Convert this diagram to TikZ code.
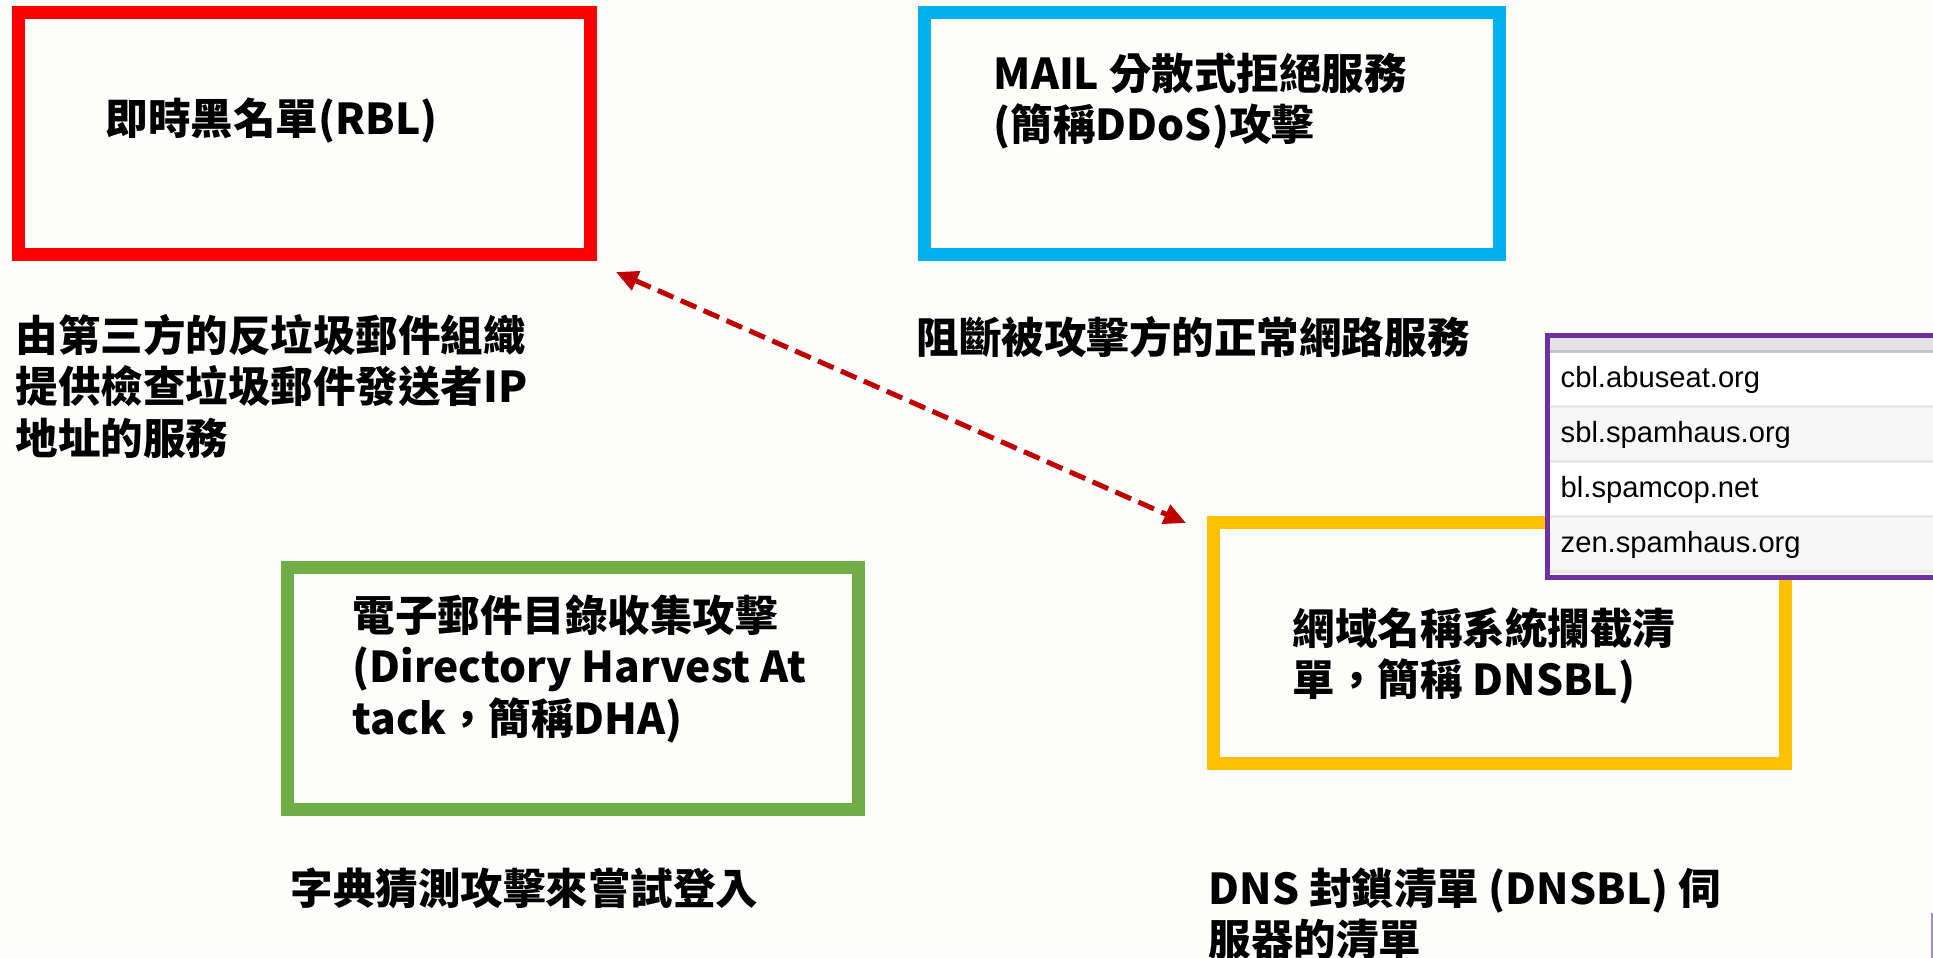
\documentclass[tikz,border=0pt]{standalone}
\usepackage{fontspec}
\setmainfont{Noto Sans CJK TC}
\newfontfamily\listfont{Liberation Sans}
\usepackage{tikz}
\usepackage{xcolor}
\usetikzlibrary{arrows.meta}
\definecolor{rblred}{HTML}{FF0000}
\definecolor{ddosblue}{HTML}{00B0F0}
\definecolor{dhagreen}{HTML}{70AD47}
\definecolor{dnsyellow}{HTML}{FFC000}
\definecolor{listpurple}{HTML}{7030A0}
\definecolor{linkred}{HTML}{C00000}
\definecolor{hdrgray}{HTML}{E3E3E7}
\definecolor{rulegray}{HTML}{C4C4C4}
\definecolor{sepgray}{HTML}{E8E8E8}
\definecolor{rowgray}{HTML}{F7F7F7}
\definecolor{lavender}{HTML}{A58AD6}
\definecolor{bg}{HTML}{FDFDFC}

\begin{document}
\begin{tikzpicture}[x=1cm,y=-1cm,
  box/.style={draw,line width=.13cm,minimum width=5.72cm,minimum height=2.42cm,inner sep=0},
  txt/.style={font=\bfseries\fontsize{12.1}{14.6}\selectfont,align=left,inner sep=0,anchor=base west},
  entry/.style={font=\listfont\fontsize{8.3}{10}\selectfont,inner sep=0,anchor=base west},
  link/.style={linkred,line width=.05cm,dash pattern=on .17cm off .08cm,
    {Triangle[length=.22cm,width=.2cm]}-{Triangle[length=.22cm,width=.2cm]}}]
  \path[use as bounding box,fill=bg] (0,0) rectangle (19.33,9.58);
  \clip (0,0) rectangle (19.33,9.58);

  % four boxes
  \node (rbl) [box,rblred] at (3.045,1.335) {};
  \node (ddos) [box,ddosblue,minimum width=5.75cm] at (12.12,1.335) {};
  \node (dha) [box,dhagreen,minimum width=5.71cm] at (5.73,6.885) {};
  \node (dnsbl) [box,dnsyellow,minimum height=2.41cm] at (14.995,6.43) {};

  % base is the last line
  \node (rblt) [txt] at (1.05,1.34) {即時黑名單(RBL)};
  \node (rbld) [txt] at (.15,4.54) {由第三方的反垃圾郵件組織\\提供檢查垃圾郵件發送者IP\\地址的服務};
  \node (ddost) [txt] at (9.93,1.405) {MAIL 分散式拒絕服務\\(簡稱DDoS)攻擊};
  \node (ddosd) [txt] at (9.16,3.53) {阻斷被攻擊方的正常網路服務};
  \node (dhat) [txt] at (3.52,7.34) {電子郵件目錄收集攻擊\\(Directory Harvest At\\tack，簡稱DHA)};
  \node (dhad) [txt] at (2.90,9.04) {字典猜測攻擊來嘗試登入};
  \node (dnsblt) [txt] at (12.92,6.955) {網域名稱系統攔截清\\單，簡稱 DNSBL)};
  \node (dnsbld) [txt] at (12.08,9.555) {DNS 封鎖清單 (DNSBL) 伺\\服器的清單};

  % list of blocking servers
  \fill[white] (15.47,3.35) rectangle (20,5.78);
  \fill[hdrgray] (15.47,3.38) rectangle (20,3.50);
  \fill[rulegray] (15.47,3.50) rectangle (20,3.53);
  \fill[sepgray] (15.47,4.05) rectangle (20,4.08);
  \fill[rowgray] (15.47,4.08) rectangle (20,4.60);
  \fill[sepgray] (15.47,4.60) rectangle (20,4.63);
  \fill[sepgray] (15.47,5.15) rectangle (20,5.18);
  \fill[rowgray] (15.47,5.18) rectangle (20,5.70);
  \fill[sepgray] (15.47,5.70) rectangle (20,5.73);
  \node (cbl) [entry] at (15.60,3.87) {cbl.abuseat.org};
  \node (sbl) [entry] at (15.60,4.42) {sbl.spamhaus.org};
  \node (scop) [entry] at (15.60,4.97) {bl.spamcop.net};
  \node (zen) [entry] at (15.60,5.52) {zen.spamhaus.org};
  \draw[listpurple,line width=.05cm] (15.475,3.355) rectangle (20,5.775);

  \draw[lavender,line width=.02cm] (19.32,9.13) -- (19.32,9.6);

  \path (node cs:name=rbl,anchor=south east) +(.19,.11) coordinate (rblo) {};
  \path (node cs:name=dnsbl,anchor=north west) +(-.21,.07) coordinate (dnsbli) {};
  \draw[link] (rblo) -- (dnsbli);
\end{tikzpicture}
\end{document}
